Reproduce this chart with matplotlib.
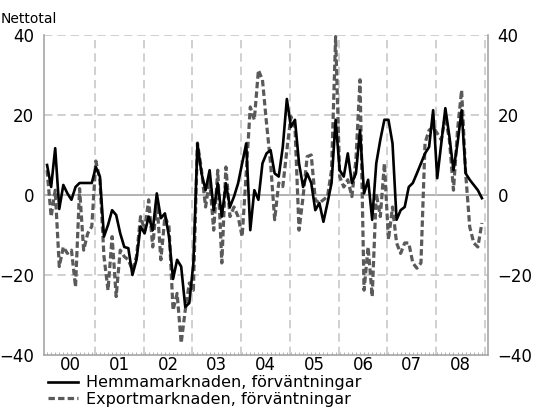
import numpy as np
import matplotlib

matplotlib.use("Agg")
import matplotlib.pyplot as plt
from matplotlib.ticker import FixedLocator

# monthly values, Jan 2000 - Dec 2008
years = ["00", "01", "02", "03", "04", "05", "06", "07", "08"]

hemma = [
    7.5, 2, 11.7, -3.5, 2.5, 0.4, -1.2, 2, 3, 3, 3, 3,
    7, 4.6, -10.4, -7.5, -3.8, -5, -9.6, -13, -13.3, -20, -16.2, -7.9,
    -9.6, -5.4, -8.8, 0.4, -5.8, -4.6, -10.4, -21, -16.2, -17.9, -28, -27,
    -17, 12.9, 5.4, 1.2, 6.2, -3.8, 2.9, -5.4, 2.9, -3, -0.4, 2.9,
    7.9, 12.9, -8.8, 1.2, -1.2, 7.9, 10.4, 11.2, 5.4, 4.6, 12, 24,
    17, 18.8, 7.9, 2, 5.4, 3, -3.8, -2, -6.7, -2, 3, 18.8,
    6.2, 4.6, 10.4, 3, 5.4, 16.2, 0.4, 3.8, -6.2, 7.9, 13.8, 18.8,
    18.8, 12.9, -6.2, -3.8, -3, 2, 3, 5.4, 7.9, 10.4, 12, 21.2,
    4.2, 12.9, 21.7, 14.6, 6.2, 12.9, 21.2, 5.4, 3.8, 2.5, 1.2, -0.8,
]

export = [
    6.2, -5.4, 1.2, -17.9, -13, -14.6, -13.8, -23, 1.6, -13.8, -9.6, -7.9,
    8.5, 3.8, -15.4, -23.8, -10.4, -25.4, -13.8, -15.4, -16.2, -18.8, -15.4, -5.4,
    -8.8, -1.2, -13, -1.2, -16.2, -5.4, -7.9, -28.8, -24.6, -37, -28.8, -22,
    -23.8, 13, 6.2, -3, 3.8, -8.8, 6.2, -17, 7, -5.4, -3, -5.4,
    -10.4, 5.4, 22, 18.8, 31.2, 28.8, 17.9, 7.9, -6.2, 3, 2.1, 11.2,
    19.6, 17, -8.8, -0.4, 9.6, 10, -1.2, -2, -1.2, -0.4, 6.2, 39.6,
    4.6, 2, 3.8, -0.4, 8.8, 28.8, -23.8, -13, -25.4, 0.4, -5.4, 7.9,
    -11.2, -3, -12, -14.6, -12, -12, -17, -18.3, -17, 13, 16.2, 17,
    15.4, 13.8, 19.6, 13.8, 1.2, 16.2, 26.2, 5.4, -8, -12, -13, -7,
]

y_ticks = [-40, -20, 0, 20, 40]

months = np.arange(len(hemma))
grid_col = "#c8c8c8"
spine_col = "#a6a6a6"

fig = plt.figure(figsize=(5.33, 4.2), dpi=100)
ax = fig.add_axes([0.0826, 0.1548, 0.8330, 0.7619])

for yv in [-20, 20, 40]:
    ax.axhline(yv, color=grid_col, lw=1.2, ls=(0, (5, 3)), zorder=1)
ax.axhline(0, color=spine_col, lw=1.2, zorder=1)
for k in range(1, len(years) + 1):
    ax.axvline(12 * k - 0.25, color=grid_col, lw=1.2, ls=(0, (5, 3)), zorder=1)

ax.plot(months, hemma, color="black", lw=1.9, zorder=3,
        label="Hemmamarknaden, förväntningar")
ax.plot(months, export, color="#5a5a5a", lw=2.3, ls=(0, (2, 1)), zorder=2,
        label="Exportmarknaden, förväntningar")

ax.set_xlim(-0.75, 108.5)
ax.set_ylim(-40, 40)
ax.set_yticks(y_ticks)
ax.set_xticks([12 * k + 5.75 for k in range(len(years))])
ax.set_xticklabels(years)
ax.xaxis.set_minor_locator(FixedLocator(np.arange(0, 108) + 0.0))
ax.tick_params(axis="x", which="major", length=0, pad=1, labelsize=12)
ax.tick_params(axis="x", which="minor", length=2, direction="in", color=spine_col)
ax.tick_params(axis="y", length=0, pad=7, labelsize=12)

for side in ["left", "right", "bottom"]:
    ax.spines[side].set_color(spine_col)
    ax.spines[side].set_linewidth(1.2)
ax.spines["top"].set_visible(False)

ax2 = ax.twinx()
ax2.set_ylim(-40, 40)
ax2.set_yticks(y_ticks)
ax2.tick_params(axis="y", length=0, pad=7, labelsize=12)
for s in ax2.spines.values():
    s.set_visible(False)

fig.text(0.002, 0.945, "Nettotal", fontsize=10)

fig.legend(loc="upper left", bbox_to_anchor=(0.09, 0.106), frameon=False,
           fontsize=11.5, handlelength=1.9, handletextpad=0.45,
           labelspacing=0.1, borderaxespad=0, borderpad=0)

fig.savefig("out.png", dpi=100)
